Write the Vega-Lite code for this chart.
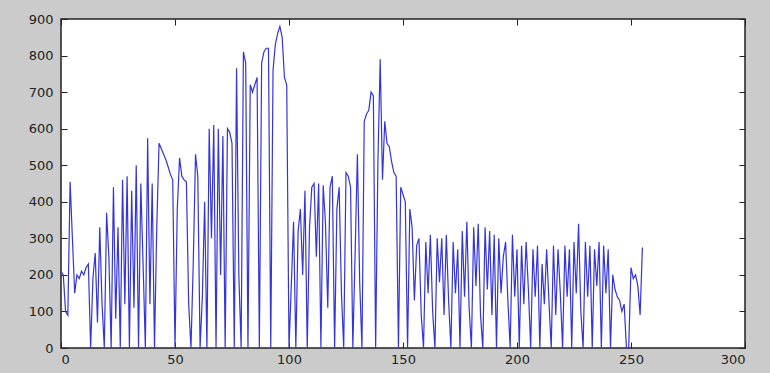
{
  "$schema": "https://vega.github.io/schema/vega-lite/v6.json",
  "width": 684,
  "height": 329,
  "autosize": {"type": "none"},
  "padding": {"left": 61, "top": 19, "right": 25, "bottom": 25},
  "background": "#cbcbcb",
  "config": {
    "view": {"fill": "white", "stroke": "#222222", "strokeWidth": 1.5},
    "axis": {"labelFont": "DejaVu Sans", "labelFontSize": 13, "labelColor": "#222222", "domainColor": "#222222", "tickColor": "#222222", "grid": false, "title": null}
  },
  "data": {"values": [
    {"level": 0, "count": 210}, {"level": 1, "count": 200}, {"level": 2, "count": 100}, {"level": 3, "count": 90}, {"level": 4, "count": 455}, {"level": 5, "count": 300}, {"level": 6, "count": 150}, {"level": 7, "count": 200}, {"level": 8, "count": 190}, {"level": 9, "count": 210},
    {"level": 10, "count": 200}, {"level": 11, "count": 220}, {"level": 12, "count": 230}, {"level": 13, "count": 0}, {"level": 14, "count": 190}, {"level": 15, "count": 260}, {"level": 16, "count": 70}, {"level": 17, "count": 330}, {"level": 18, "count": 120}, {"level": 19, "count": 0},
    {"level": 20, "count": 370}, {"level": 21, "count": 250}, {"level": 22, "count": 0}, {"level": 23, "count": 440}, {"level": 24, "count": 80}, {"level": 25, "count": 330}, {"level": 26, "count": 0}, {"level": 27, "count": 460}, {"level": 28, "count": 120}, {"level": 29, "count": 470},
    {"level": 30, "count": 0}, {"level": 31, "count": 430}, {"level": 32, "count": 110}, {"level": 33, "count": 500}, {"level": 34, "count": 0}, {"level": 35, "count": 450}, {"level": 36, "count": 230}, {"level": 37, "count": 0}, {"level": 38, "count": 574}, {"level": 39, "count": 120},
    {"level": 40, "count": 450}, {"level": 41, "count": 0}, {"level": 42, "count": 330}, {"level": 43, "count": 560}, {"level": 44, "count": 545}, {"level": 45, "count": 530}, {"level": 46, "count": 515}, {"level": 47, "count": 495}, {"level": 48, "count": 475}, {"level": 49, "count": 460},
    {"level": 50, "count": 0}, {"level": 51, "count": 380}, {"level": 52, "count": 520}, {"level": 53, "count": 470}, {"level": 54, "count": 460}, {"level": 55, "count": 455}, {"level": 56, "count": 120}, {"level": 57, "count": 0}, {"level": 58, "count": 230}, {"level": 59, "count": 530},
    {"level": 60, "count": 470}, {"level": 61, "count": 0}, {"level": 62, "count": 140}, {"level": 63, "count": 400}, {"level": 64, "count": 0}, {"level": 65, "count": 600}, {"level": 66, "count": 300}, {"level": 67, "count": 610}, {"level": 68, "count": 0}, {"level": 69, "count": 600},
    {"level": 70, "count": 200}, {"level": 71, "count": 580}, {"level": 72, "count": 0}, {"level": 73, "count": 600}, {"level": 74, "count": 590}, {"level": 75, "count": 560}, {"level": 76, "count": 0}, {"level": 77, "count": 765}, {"level": 78, "count": 200}, {"level": 79, "count": 0},
    {"level": 80, "count": 810}, {"level": 81, "count": 780}, {"level": 82, "count": 0}, {"level": 83, "count": 720}, {"level": 84, "count": 700}, {"level": 85, "count": 720}, {"level": 86, "count": 740}, {"level": 87, "count": 0}, {"level": 88, "count": 780}, {"level": 89, "count": 810},
    {"level": 90, "count": 820}, {"level": 91, "count": 820}, {"level": 92, "count": 0}, {"level": 93, "count": 760}, {"level": 94, "count": 830}, {"level": 95, "count": 860}, {"level": 96, "count": 880}, {"level": 97, "count": 850}, {"level": 98, "count": 740}, {"level": 99, "count": 720},
    {"level": 100, "count": 0}, {"level": 101, "count": 170}, {"level": 102, "count": 345}, {"level": 103, "count": 0}, {"level": 104, "count": 320}, {"level": 105, "count": 380}, {"level": 106, "count": 200}, {"level": 107, "count": 430}, {"level": 108, "count": 0}, {"level": 109, "count": 330},
    {"level": 110, "count": 440}, {"level": 111, "count": 450}, {"level": 112, "count": 250}, {"level": 113, "count": 450}, {"level": 114, "count": 0}, {"level": 115, "count": 445}, {"level": 116, "count": 340}, {"level": 117, "count": 110}, {"level": 118, "count": 440}, {"level": 119, "count": 470},
    {"level": 120, "count": 0}, {"level": 121, "count": 380}, {"level": 122, "count": 440}, {"level": 123, "count": 150}, {"level": 124, "count": 0}, {"level": 125, "count": 480}, {"level": 126, "count": 470}, {"level": 127, "count": 440}, {"level": 128, "count": 0}, {"level": 129, "count": 260},
    {"level": 130, "count": 530}, {"level": 131, "count": 180}, {"level": 132, "count": 0}, {"level": 133, "count": 620}, {"level": 134, "count": 640}, {"level": 135, "count": 650}, {"level": 136, "count": 700}, {"level": 137, "count": 690}, {"level": 138, "count": 0}, {"level": 139, "count": 510},
    {"level": 140, "count": 790}, {"level": 141, "count": 460}, {"level": 142, "count": 620}, {"level": 143, "count": 560}, {"level": 144, "count": 550}, {"level": 145, "count": 510}, {"level": 146, "count": 480}, {"level": 147, "count": 470}, {"level": 148, "count": 0}, {"level": 149, "count": 440},
    {"level": 150, "count": 420}, {"level": 151, "count": 400}, {"level": 152, "count": 0}, {"level": 153, "count": 380}, {"level": 154, "count": 330}, {"level": 155, "count": 130}, {"level": 156, "count": 280}, {"level": 157, "count": 300}, {"level": 158, "count": 90}, {"level": 159, "count": 0},
    {"level": 160, "count": 290}, {"level": 161, "count": 150}, {"level": 162, "count": 310}, {"level": 163, "count": 100}, {"level": 164, "count": 0}, {"level": 165, "count": 300}, {"level": 166, "count": 180}, {"level": 167, "count": 300}, {"level": 168, "count": 90}, {"level": 169, "count": 310},
    {"level": 170, "count": 130}, {"level": 171, "count": 0}, {"level": 172, "count": 290}, {"level": 173, "count": 150}, {"level": 174, "count": 270}, {"level": 175, "count": 0}, {"level": 176, "count": 320}, {"level": 177, "count": 140}, {"level": 178, "count": 345}, {"level": 179, "count": 110},
    {"level": 180, "count": 0}, {"level": 181, "count": 330}, {"level": 182, "count": 170}, {"level": 183, "count": 340}, {"level": 184, "count": 90}, {"level": 185, "count": 0}, {"level": 186, "count": 330}, {"level": 187, "count": 160}, {"level": 188, "count": 320}, {"level": 189, "count": 90},
    {"level": 190, "count": 310}, {"level": 191, "count": 0}, {"level": 192, "count": 300}, {"level": 193, "count": 150}, {"level": 194, "count": 250}, {"level": 195, "count": 290}, {"level": 196, "count": 130}, {"level": 197, "count": 0}, {"level": 198, "count": 310}, {"level": 199, "count": 140},
    {"level": 200, "count": 270}, {"level": 201, "count": 0}, {"level": 202, "count": 280}, {"level": 203, "count": 120}, {"level": 204, "count": 290}, {"level": 205, "count": 160}, {"level": 206, "count": 0}, {"level": 207, "count": 270}, {"level": 208, "count": 140}, {"level": 209, "count": 280},
    {"level": 210, "count": 0}, {"level": 211, "count": 230}, {"level": 212, "count": 120}, {"level": 213, "count": 270}, {"level": 214, "count": 130}, {"level": 215, "count": 0}, {"level": 216, "count": 280}, {"level": 217, "count": 90}, {"level": 218, "count": 270}, {"level": 219, "count": 150},
    {"level": 220, "count": 0}, {"level": 221, "count": 280}, {"level": 222, "count": 140}, {"level": 223, "count": 270}, {"level": 224, "count": 0}, {"level": 225, "count": 290}, {"level": 226, "count": 150}, {"level": 227, "count": 340}, {"level": 228, "count": 100}, {"level": 229, "count": 0},
    {"level": 230, "count": 290}, {"level": 231, "count": 140}, {"level": 232, "count": 280}, {"level": 233, "count": 0}, {"level": 234, "count": 270}, {"level": 235, "count": 170}, {"level": 236, "count": 290}, {"level": 237, "count": 0}, {"level": 238, "count": 280}, {"level": 239, "count": 150},
    {"level": 240, "count": 270}, {"level": 241, "count": 0}, {"level": 242, "count": 200}, {"level": 243, "count": 160}, {"level": 244, "count": 140}, {"level": 245, "count": 130}, {"level": 246, "count": 100}, {"level": 247, "count": 120}, {"level": 248, "count": 0}, {"level": 249, "count": 0},
    {"level": 250, "count": 220}, {"level": 251, "count": 190}, {"level": 252, "count": 200}, {"level": 253, "count": 170}, {"level": 254, "count": 90}, {"level": 255, "count": 275}
  ]},
  "layer": [
    {
      "mark": {"type": "line", "color": "#3434dc", "strokeWidth": 1.2, "clip": true},
      "encoding": {
        "x": {"field": "level", "type": "quantitative", "scale": {"domain": [0, 300], "nice": false, "zero": false},
              "axis": {"orient": "bottom", "values": [0, 50, 100, 150, 200, 250, 300], "tickSize": -6, "labelPadding": 11, "domain": false}},
        "y": {"field": "count", "type": "quantitative", "scale": {"domain": [0, 900], "nice": false},
              "axis": {"orient": "left", "values": [0, 100, 200, 300, 400, 500, 600, 700, 800, 900], "tickSize": -6, "labelPadding": 14, "domain": false}}
      }
    },
    {
      "mark": {"type": "line", "opacity": 0},
      "encoding": {
        "x": {"field": "level", "type": "quantitative", "scale": {"domain": [0, 300], "nice": false, "zero": false},
              "axis": {"orient": "top", "values": [0, 50, 100, 150, 200, 250, 300], "tickSize": -6, "labels": false, "domain": false}},
        "y": {"field": "count", "type": "quantitative", "scale": {"domain": [0, 900], "nice": false},
              "axis": {"orient": "right", "values": [0, 100, 200, 300, 400, 500, 600, 700, 800, 900], "tickSize": -6, "labels": false, "domain": false}}
      }
    }
  ],
  "resolve": {"axis": {"x": "independent", "y": "independent"}}
}
